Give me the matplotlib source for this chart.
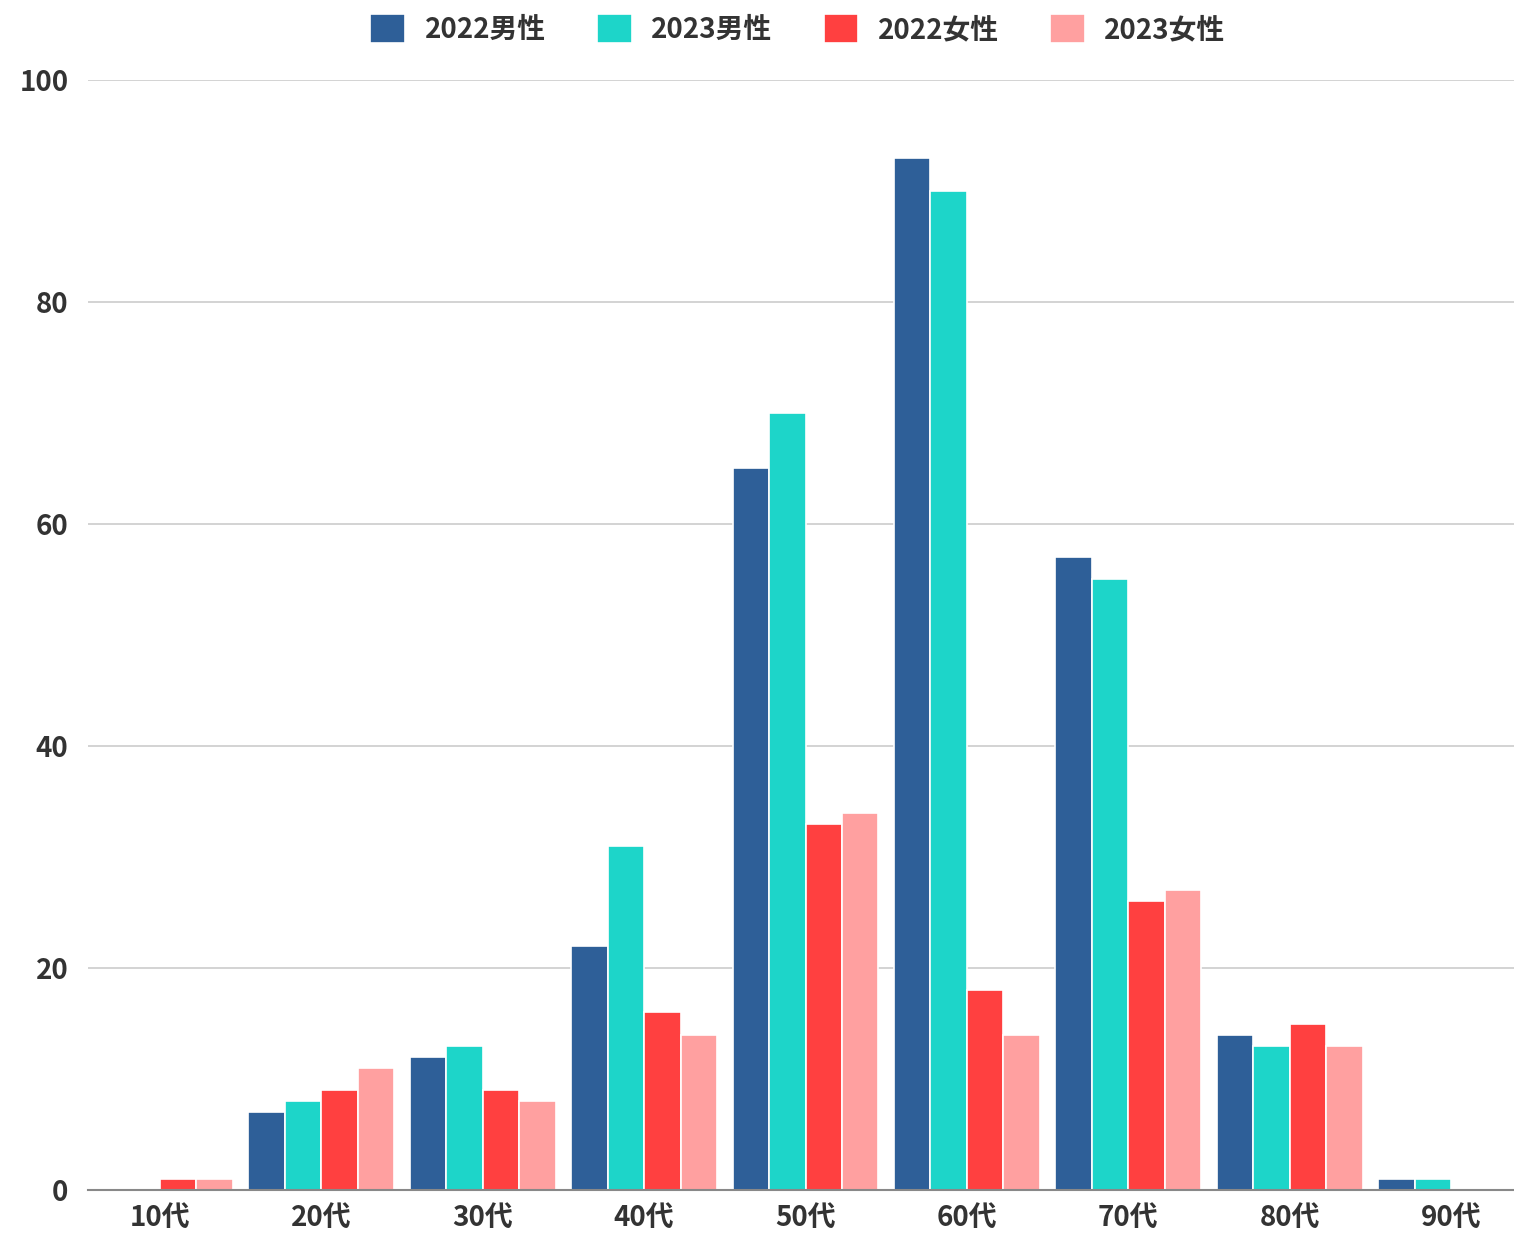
import numpy as np
import matplotlib
matplotlib.use('Agg')
from matplotlib import pyplot as plt

categories = ['10代', '20代', '30代', '40代', '50代', '60代', '70代', '80代', '90代']
series_names = ['2022男性', '2023男性', '2022女性', '2023女性']
male_2022 = [0, 7, 12, 22, 65, 93, 57, 14, 1]
male_2023 = [0, 8, 13, 31, 70, 90, 55, 13, 1]
female_2022 = [1, 9, 9, 16, 33, 18, 26, 15, 0]
female_2023 = [1, 11, 8, 14, 34, 14, 27, 13, 0]
colors = ['#2e5f98', '#1dd5c9', '#ff4040', '#ffa0a0']

plt.rcParams['font.family'] = ['Noto Sans CJK JP', 'DejaVu Sans']
plt.rcParams['font.weight'] = 'bold'

fig = plt.figure(figsize=(15.14, 12.36), dpi=100)
ax = fig.add_axes([0.0581, 0.0372, 0.9419, 0.8981])

x = np.arange(len(categories))
w = 0.226
all_series = [male_2022, male_2023, female_2022, female_2023]
for k, vals in enumerate(all_series):
    ax.bar(x + (k - 1.5) * w, vals, width=w, color=colors[k], edgecolor='white',
           linewidth=1.2, label=series_names[k], zorder=3)

ax.set_xlim(-0.446, 8.39)
ax.set_ylim(0, 100)
ax.set_yticks([0, 20, 40, 60, 80, 100])
ax.yaxis.grid(True, color='#cccccc', linewidth=1.2, zorder=0)
ax.set_xticks(x)
ax.set_xticklabels(categories)
ax.tick_params(axis='both', length=0, labelsize=20, colors='#333333', pad=10)
ax.tick_params(axis='y', pad=14)
for s in ['top', 'right', 'left']:
    ax.spines[s].set_visible(False)
ax.spines['bottom'].set_color('#888888')
ax.spines['bottom'].set_linewidth(1.5)
ax.spines['bottom'].set_zorder(4)

handles, labels = ax.get_legend_handles_labels()
leg = fig.legend(handles, labels, loc='center', bbox_to_anchor=(0.527, 0.9765), ncol=4,
                 frameon=False, fontsize=20, handlelength=1.25, handleheight=1.25,
                 columnspacing=1.85, handletextpad=0.7)
for t in leg.get_texts():
    t.set_color('#333333')

fig.savefig('out.png', dpi=100)
